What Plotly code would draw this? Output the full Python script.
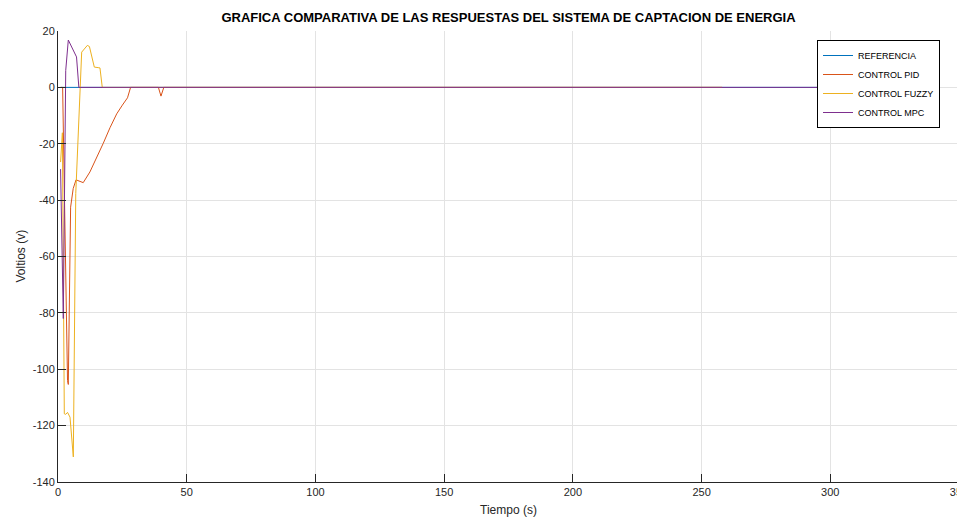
import plotly.graph_objects as go

# Data
ref_t = [1.0, 300.0]
ref_v = [0.0, 0.0]

pid_t = [1.0, 1.8, 3.7, 4.0, 4.9, 5.9, 7.0, 8.5, 9.8, 12.4, 15.0, 17.6, 20.2, 22.8, 25.0, 27.0, 28.2, 39.0, 40.0, 41.1, 258.0]
pid_v = [0.0, 0.0, -104.0, -105.4, -42.5, -35.9, -32.8, -33.2, -33.8, -30.0, -25.2, -19.8, -14.3, -9.4, -6.3, -3.7, 0.0, 0.0, -3.1, 0.0, 0.0]

fuzzy_t = [1.0, 1.4, 1.7, 2.45, 3.0, 3.7, 4.66, 5.95, 6.9, 9.2, 10.5, 11.4, 12.2, 14.1, 15.6, 16.3, 17.2, 258.0]
fuzzy_v = [-26.5, -22.0, -16.1, -115.8, -116.0, -115.3, -117.0, -131.1, -37.7, 12.5, 14.0, 14.9, 14.5, 7.2, 7.0, 6.9, 0.0, 0.0]

mpc_t = [1.0, 2.06, 3.0, 4.0, 7.2, 8.1, 300.0]
mpc_v = [-29.0, -82.0, 6.0, 16.8, 10.8, 0.0, 0.0]

x_ticks = [0, 50, 100, 150, 200, 250, 300, 350]
y_ticks = [-140, -120, -100, -80, -60, -40, -20, 0, 20]

FONT = "Liberation Sans, Arial, sans-serif"

fig = go.Figure()
fig.add_trace(go.Scatter(x=ref_t, y=ref_v, mode="lines", name="REFERENCIA",
                         line=dict(color="#0072BD", width=1)))
fig.add_trace(go.Scatter(x=pid_t, y=pid_v, mode="lines", name="CONTROL PID",
                         line=dict(color="#D95319", width=1)))
fig.add_trace(go.Scatter(x=fuzzy_t, y=fuzzy_v, mode="lines", name="CONTROL FUZZY",
                         line=dict(color="#EDB120", width=1)))
fig.add_trace(go.Scatter(x=mpc_t, y=mpc_v, mode="lines", name="CONTROL MPC",
                         line=dict(color="#7E2F8E", width=1)))

tick_font = dict(family=FONT, size=11, color="#262626")
title_font = dict(family=FONT, size=12, color="#262626")

OFF = 8  # page body margin
W, H = 965 - OFF, 518 - OFF
L, T = 58 - OFF, 31 - OFF
R, B = 6, 36
plot_w = W - L - R
plot_h = H - T - B
plot_bottom_page = 518 - B  # 482

fig.update_layout(
    width=W, height=H,
    margin=dict(l=L, r=R, t=T, b=B, autoexpand=False),
    paper_bgcolor="white", plot_bgcolor="white",
    font=dict(family=FONT, size=11, color="#262626"),
    title=dict(text="<b>GRAFICA COMPARATIVA DE LAS RESPUESTAS DEL SISTEMA DE CAPTACION DE ENERGIA</b>",
               x=(L + plot_w / 2) / W, xanchor="center", y=1 - (17 - OFF) / H, yanchor="middle",
               font=dict(family=FONT, size=13, color="black")),
    legend=dict(x=(940 - 58) / plot_w, y=(plot_bottom_page - 40) / plot_h, xanchor="right", yanchor="top",
                bgcolor="white", bordercolor="black", borderwidth=1,
                font=dict(family=FONT, size=9, color="black"),
                tracegroupgap=0, itemwidth=30),
    showlegend=True,
    annotations=[
        dict(text="Tiempo (s)", x=0.5, xref="paper", y=-(510 - plot_bottom_page) / plot_h, yref="paper",
             xanchor="center", yanchor="middle", showarrow=False, font=title_font),
        dict(text="Voltios (v)", x=-(58 - 20) / plot_w, xref="paper", y=0.5, yref="paper",
             xanchor="center", yanchor="middle", showarrow=False, textangle=-90, font=title_font),
    ],
)

fig.update_xaxes(range=[0, 350], tickvals=x_ticks, ticktext=[str(v) for v in x_ticks],
                 showgrid=True, gridcolor="#e3e3e3", gridwidth=1, automargin=False,
                 showline=True, linecolor="#262626", linewidth=1, mirror=False,
                 ticks="inside", ticklen=8, tickcolor="#262626", zeroline=False,
                 ticklabeloverflow="allow", tickfont=tick_font)
fig.update_yaxes(range=[-140, 20], tickvals=y_ticks, ticktext=[str(v) for v in y_ticks],
                 showgrid=True, gridcolor="#e3e3e3", gridwidth=1, automargin=False,
                 showline=True, linecolor="#262626", linewidth=1, mirror=False,
                 ticks="inside", ticklen=8, tickcolor="#262626", zeroline=False,
                 tickfont=tick_font)

fig.write_html("out.html")
